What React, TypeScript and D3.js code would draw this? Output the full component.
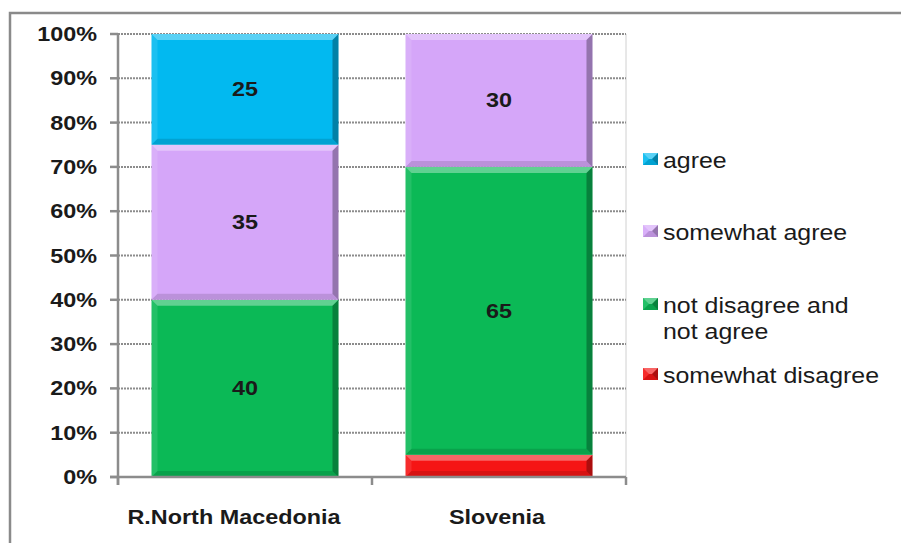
import React from "react";
import * as d3 from "d3";

const categories = ["R.North Macedonia", "Slovenia"];
const seriesNames = ["somewhat disagree", "not disagree and not agree", "somewhat agree", "agree"];
const somewhatDisagree = [0, 5];
const neutral = [40, 65];
const somewhatAgree = [35, 30];
const agree = [25, 0];
const yTicks = [0, 10, 20, 30, 40, 50, 60, 70, 80, 90, 100];
const colors = ["#F51515", "#0BB956", "#D5A6F9", "#02B9F0"];
const legendOrder = [3, 2, 1, 0];
const legendLines = [["agree"], ["somewhat agree"], ["not disagree and", "not agree"], ["somewhat disagree"]];

const W = 901, H = 543;
const X0 = 118, X1 = 626, Y0 = 477, Y1 = 34;
const SX = 1.17;
const FONT = "'Liberation Sans', Arial, sans-serif";
const TXT = "#1a1a1a";
const catLabelShift = [-11, -2];

function Bevel({ x, y, w, h, color }: { x: number; y: number; w: number; h: number; color: string }) {
  const b = Math.min(6, h / 2, w / 2);
  const x2 = x + w, y2 = y + h;
  return (
    <g>
      <rect x={x} y={y} width={w} height={h} fill={color} />
      <polygon points={`${x},${y} ${x2},${y} ${x2 - b},${y + b} ${x + b},${y + b}`} fill="#fff" opacity={0.35} />
      <polygon points={`${x},${y} ${x + b},${y + b} ${x + b},${y2 - b} ${x},${y2}`} fill="#fff" opacity={0.1} />
      <polygon points={`${x2},${y} ${x2},${y2} ${x2 - b},${y2 - b} ${x2 - b},${y + b}`} fill="#000" opacity={0.3} />
      <polygon points={`${x},${y2} ${x2},${y2} ${x2 - b},${y2 - b} ${x + b},${y2 - b}`} fill="#000" opacity={0.12} />
    </g>
  );
}

export default function App() {
  const x = d3.scaleBand<string>().domain(categories).range([X0, X1]).paddingInner(0.264).paddingOuter(0.132);
  const y = d3.scaleLinear().domain([0, 100]).range([Y0, Y1]);
  const rows = categories.map((c, i) => ({
    cat: c,
    [seriesNames[0]]: somewhatDisagree[i],
    [seriesNames[1]]: neutral[i],
    [seriesNames[2]]: somewhatAgree[i],
    [seriesNames[3]]: agree[i],
  }));
  const stacked = d3.stack<any>().keys(seriesNames)(rows);
  const bw = x.bandwidth();

  return (
    <svg width={W} height={H} style={{ position: "absolute", left: 0, top: 0, background: "#fff" }}>
      <rect x={0} y={0} width={W} height={H} fill="#fff" />
      <rect x={10} y={13} width={W + 20} height={H + 20} fill="none" stroke="#8a8a8a" strokeWidth={2.5} />
      <line x1={X1} x2={X1} y1={Y1} y2={Y0} stroke="#d0d0d0" strokeWidth={1} />
      {yTicks.map((t) => (
        <g key={t}>
          {t > 0 && (
            <line x1={X0} x2={X1} y1={y(t)} y2={y(t)} stroke="#8c8c8c" strokeWidth={2} strokeDasharray="2 1" />
          )}
          <line x1={X0 - 8} x2={X0} y1={y(t)} y2={y(t)} stroke="#8c8c8c" strokeWidth={2.5} />
          <text
            transform={`translate(97,${y(t) + 7}) scale(${SX},1)`}
            textAnchor="end"
            fontFamily={FONT}
            fontWeight="bold"
            fontSize={20}
            fill={TXT}
          >
            {t}%
          </text>
        </g>
      ))}
      {stacked.map((s, si) =>
        s.map((d, ci) => {
          const v = d[1] - d[0];
          if (v <= 0) return null;
          const bx = x(categories[ci]) as number;
          const top = y(d[1]);
          const bot = y(d[0]);
          return (
            <g key={`${si}-${ci}`}>
              <Bevel x={bx} y={top} w={bw} h={bot - top} color={colors[si]} />
              {v >= 10 && (
                <text
                  transform={`translate(${bx + bw / 2},${(top + bot) / 2 + 7}) scale(${SX},1)`}
                  textAnchor="middle"
                  fontFamily={FONT}
                  fontWeight="bold"
                  fontSize={20}
                  fill={TXT}
                >
                  {v}
                </text>
              )}
            </g>
          );
        })
      )}
      <line x1={X0} x2={X0} y1={Y1 - 1} y2={Y0 + 8} stroke="#8c8c8c" strokeWidth={2.5} />
      <line x1={X0 - 8} x2={X1} y1={Y0} y2={Y0} stroke="#8c8c8c" strokeWidth={2.5} />
      {[X0, X0 + x.step(), X1].map((tx, i) => (
        <line key={i} x1={tx} x2={tx} y1={Y0} y2={Y0 + 8} stroke="#8c8c8c" strokeWidth={2.5} />
      ))}
      {categories.map((c, i) => (
        <text
          key={c}
          transform={`translate(${(x(c) as number) + bw / 2 + catLabelShift[i]},${524}) scale(${SX},1)`}
          textAnchor="middle"
          fontFamily={FONT}
          fontWeight="bold"
          fontSize={20}
          fill={TXT}
        >
          {c}
        </text>
      ))}
      {legendOrder.map((si, li) => {
        const ys = [168, 240, 313, 383][li];
        return (
          <g key={si}>
            <Bevel x={643} y={ys - 15} w={15} h={12} color={colors[si]} />
            {legendLines[li].map((line, k) => (
              <text
                key={k}
                transform={`translate(663,${ys + k * 26}) scale(${SX},1)`}
                fontFamily={FONT}
                fontSize={21.3}
                fill={TXT}
              >
                {line}
              </text>
            ))}
          </g>
        );
      })}
    </svg>
  );
}
